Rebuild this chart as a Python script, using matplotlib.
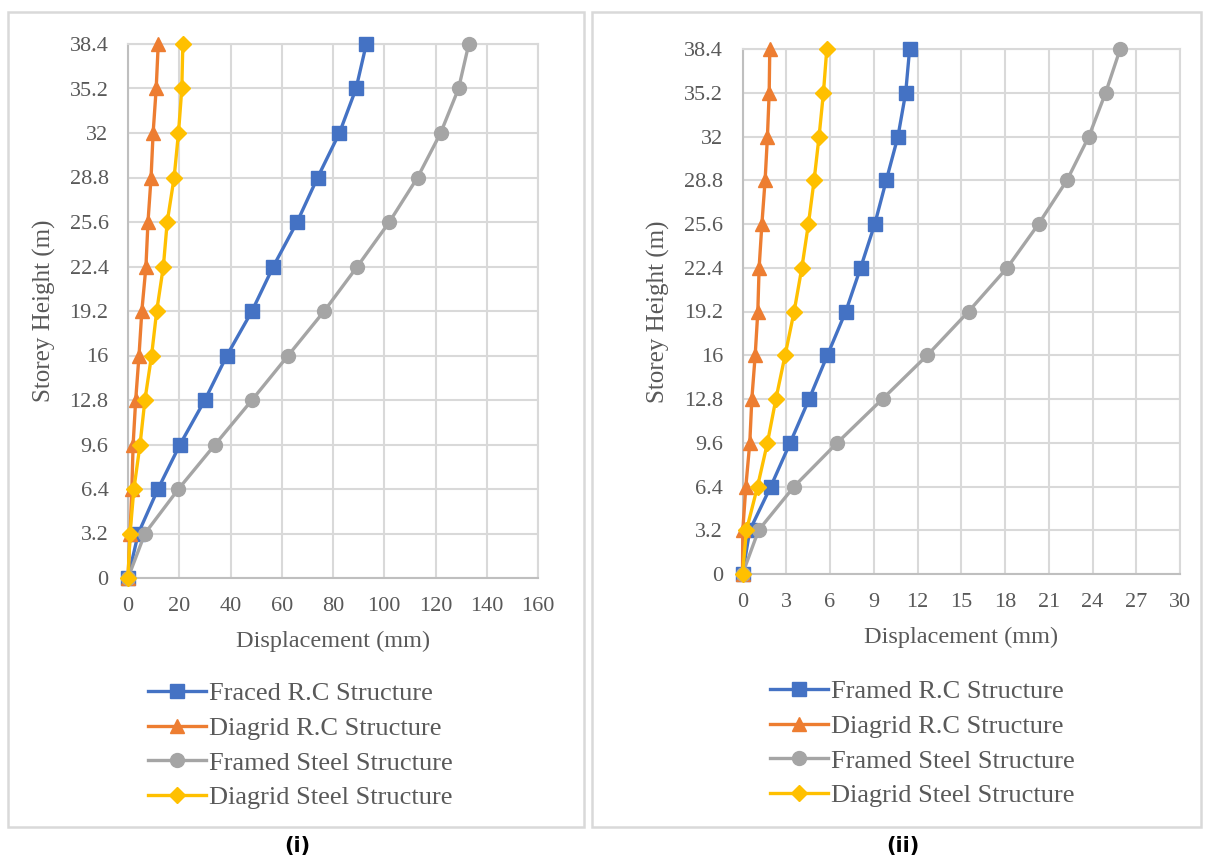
import numpy as np
import matplotlib.pyplot as plt
from matplotlib.patches import Rectangle

# storey levels (m)
heights = [0, 3.2, 6.4, 9.6, 12.8, 16, 19.2, 22.4, 25.6, 28.8, 32, 35.2, 38.4]
height_labels = ['0', '3.2', '6.4', '9.6', '12.8', '16', '19.2', '22.4',
                 '25.6', '28.8', '32', '35.2', '38.4']

# (i) displacement in mm
rc_frame_1 = [0, 4, 11.7, 20.3, 30, 38.6, 48.4, 56.7, 66, 74, 82.5, 89, 93]
rc_diagrid_1 = [0, 0.8, 1.5, 2, 3, 4.3, 5.4, 7, 7.8, 9, 9.8, 11, 11.8]
steel_frame_1 = [0, 6.6, 19.7, 34, 48.4, 62.5, 76.6, 89.5, 102, 113, 122, 129, 133]
steel_diagrid_1 = [0, 0.8, 2.3, 4.7, 6.6, 9.2, 11.2, 13.8, 15.3, 18, 19.7, 21, 21.4]

# (ii) displacement in mm
rc_frame_2 = [0, 0.5, 1.94, 3.27, 4.57, 5.82, 7.08, 8.1, 9.07, 9.86, 10.66, 11.19, 11.46]
rc_diagrid_2 = [0, 0.02, 0.23, 0.5, 0.64, 0.87, 1.05, 1.14, 1.33, 1.55, 1.71, 1.83, 1.87]
steel_frame_2 = [0, 1.1, 3.54, 6.5, 9.6, 12.67, 15.5, 18.15, 20.3, 22.25, 23.75, 24.9, 25.9]
steel_diagrid_2 = [0, 0.27, 1.03, 1.71, 2.29, 2.92, 3.54, 4.07, 4.52, 4.91, 5.25, 5.55, 5.78]

names_1 = ['Fraced R.C Structure', 'Diagrid R.C Structure',
           'Framed Steel Structure', 'Diagrid Steel Structure']
names_2 = ['Framed R.C Structure', 'Diagrid R.C Structure',
           'Framed Steel Structure', 'Diagrid Steel Structure']

colors = ['#4472C4', '#ED7D31', '#A5A5A5', '#FFC000']
markers = ['s', '^', 'o', 'D']
msizes = [10, 10, 10, 8]

W, H = 1205, 859
fig = plt.figure(figsize=(W / 100, H / 100), dpi=100)
plt.rcParams['font.family'] = ['Liberation Serif', 'DejaVu Serif']

# panel frames
for x0, x1 in [(8, 584), (592, 1201)]:
    fig.patches.append(Rectangle((x0 / W, 1 - 827 / H), (x1 - x0) / W, (827 - 12) / H,
                                 transform=fig.transFigure, fill=False,
                                 edgecolor='#d9d9d9', linewidth=1.8))


def panel(rect, series, names, xmax, xstep, tag, tag_x, leg_xy):
    ax = fig.add_axes(rect)
    for vals, name, c, m, ms in zip(series, names, colors, markers, msizes):
        ax.plot(vals, heights, color=c, marker=m, markersize=ms, linewidth=2.4,
                label=name, clip_on=False, zorder=3)
    ax.set_xlim(0, xmax)
    ax.set_ylim(0, 38.4)
    ax.set_xticks(np.arange(0, xmax + 0.1, xstep))
    ax.set_yticks(heights)
    ax.set_yticklabels(height_labels)
    ax.grid(True, color='#d9d9d9', linewidth=1.5)
    ax.set_axisbelow(True)
    for s in ['top', 'right']:
        ax.spines[s].set_color('#d9d9d9')
        ax.spines[s].set_linewidth(1.5)
    for s in ['left', 'bottom']:
        ax.spines[s].set_color('#bfbfbf')
        ax.spines[s].set_linewidth(1.5)
    ax.tick_params(length=0, labelsize=16, labelcolor='#595959', pad=14)
    ax.set_xlabel('Displacement (mm)', fontsize=17.5, color='#595959', labelpad=10)
    ax.set_ylabel('Storey Height (m)', fontsize=18, color='#595959', labelpad=10)
    fig.legend(*ax.get_legend_handles_labels(), loc='upper left',
               bbox_to_anchor=(leg_xy[0] / W, 1 - leg_xy[1] / H),
               frameon=False, borderpad=0, borderaxespad=0,
               fontsize=19, labelcolor='#595959', handlelength=2.2,
               handletextpad=0.1, labelspacing=0.42)
    fig.text(tag_x / W, 1 - 846 / H, tag, ha='center', va='center',
             fontsize=15, fontweight='bold', family='DejaVu Sans')
    return ax


panel([128 / W, 1 - 578 / H, 410 / W, 534 / H],
      [rc_frame_1, rc_diagrid_1, steel_frame_1, steel_diagrid_1],
      names_1, 160, 20, '(i)', 297, (148, 682))
panel([742.5 / W, 1 - 574 / H, 437.5 / W, 525 / H],
      [rc_frame_2, rc_diagrid_2, steel_frame_2, steel_diagrid_2],
      names_2, 30, 3, '(ii)', 903, (770, 680))

fig.savefig('out.png', dpi=100)
